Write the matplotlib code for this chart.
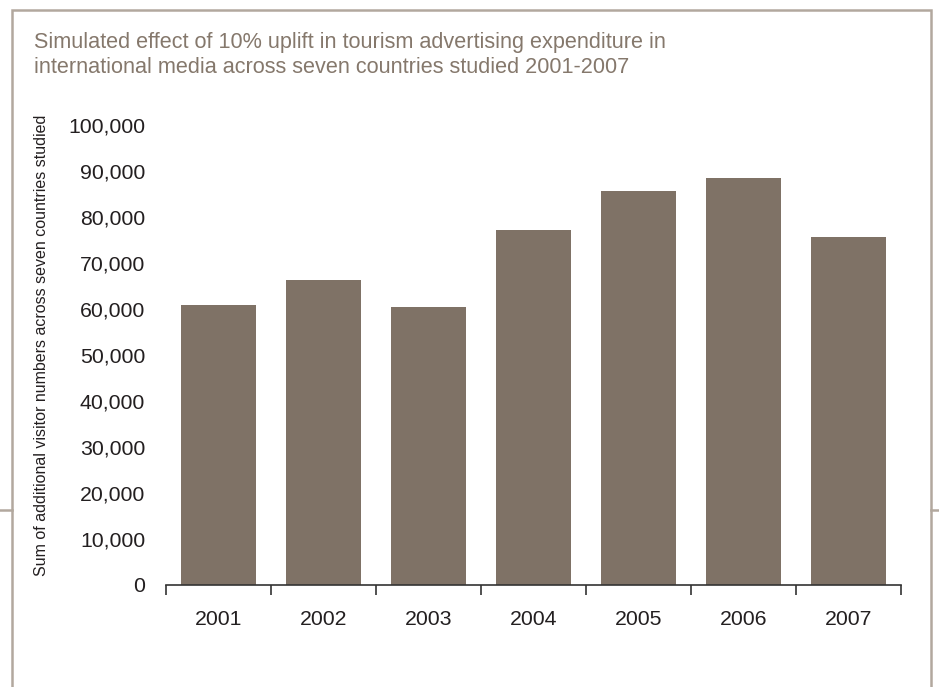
import matplotlib
matplotlib.use('Agg')
import matplotlib.pyplot as plt
from matplotlib.lines import Line2D

years = ['2001', '2002', '2003', '2004', '2005', '2006', '2007']
visitors = [60900, 66300, 60400, 77200, 85700, 88500, 75700]
yticks = [0, 10000, 20000, 30000, 40000, 50000, 60000, 70000, 80000, 90000, 100000]

title = ('Simulated effect of 10% uplift in tourism advertising expenditure in\n'
         'international media across seven countries studied 2001-2007')
ylabel = 'Sum of additional visitor numbers across seven countries studied'

bar_color = '#7f7266'
frame_color = '#b2a89e'
text_color = '#231f20'

plt.rcParams['font.family'] = ['Liberation Sans', 'DejaVu Sans']

W, H = 939, 687
fig = plt.figure(figsize=(W / 100, H / 100), dpi=100)

# outer frame, open at the bottom, with small stubs on both sides
frame = [((12, 12, 931, 931), (H, 10, 10, H)),
         ((0, 12), (510, 510)),
         ((931, 939), (510, 510))]
for xs, ys in frame:
    fig.add_artist(Line2D([x / W for x in xs], [1 - y / H for y in ys],
                          color=frame_color, lw=1.8, solid_joinstyle='miter'))

fig.text(34 / W, 1 - 32 / H, title, ha='left', va='top', fontsize=15.6,
         color='#85786c', linespacing=1.25)
fig.text(42 / W, 1 - 345 / H, ylabel, rotation=90, ha='center', va='center',
         fontsize=11.5, color=text_color)

left, right = 166 / W, 901 / W
bottom, top = 1 - 585 / H, 1 - 125 / H
ax = fig.add_axes([left, bottom, right - left, top - bottom])

x = list(range(len(years)))
ax.bar(x, visitors, width=0.72, color=bar_color)

ax.set_xlim(-0.5, len(years) - 0.5)
ax.set_ylim(0, 100000)

for s in ['top', 'right', 'left']:
    ax.spines[s].set_visible(False)
ax.spines['bottom'].set_color('#333333')
ax.spines['bottom'].set_linewidth(1.2)

ax.set_yticks(yticks)
ax.set_yticklabels([f'{v:,}' for v in yticks])
ax.tick_params(axis='y', length=0, pad=15, labelsize=15.3, labelcolor=text_color)

ax.set_xticks(x)
ax.set_xticklabels(years)
ax.set_xticks([i - 0.5 for i in range(len(years) + 1)], minor=True)
ax.tick_params(axis='x', which='major', length=0, pad=18, labelsize=15.3,
               labelcolor=text_color)
ax.tick_params(axis='x', which='minor', length=7.5, width=1.2, color='#333333',
               direction='out')

fig.savefig('out.png', dpi=100)
